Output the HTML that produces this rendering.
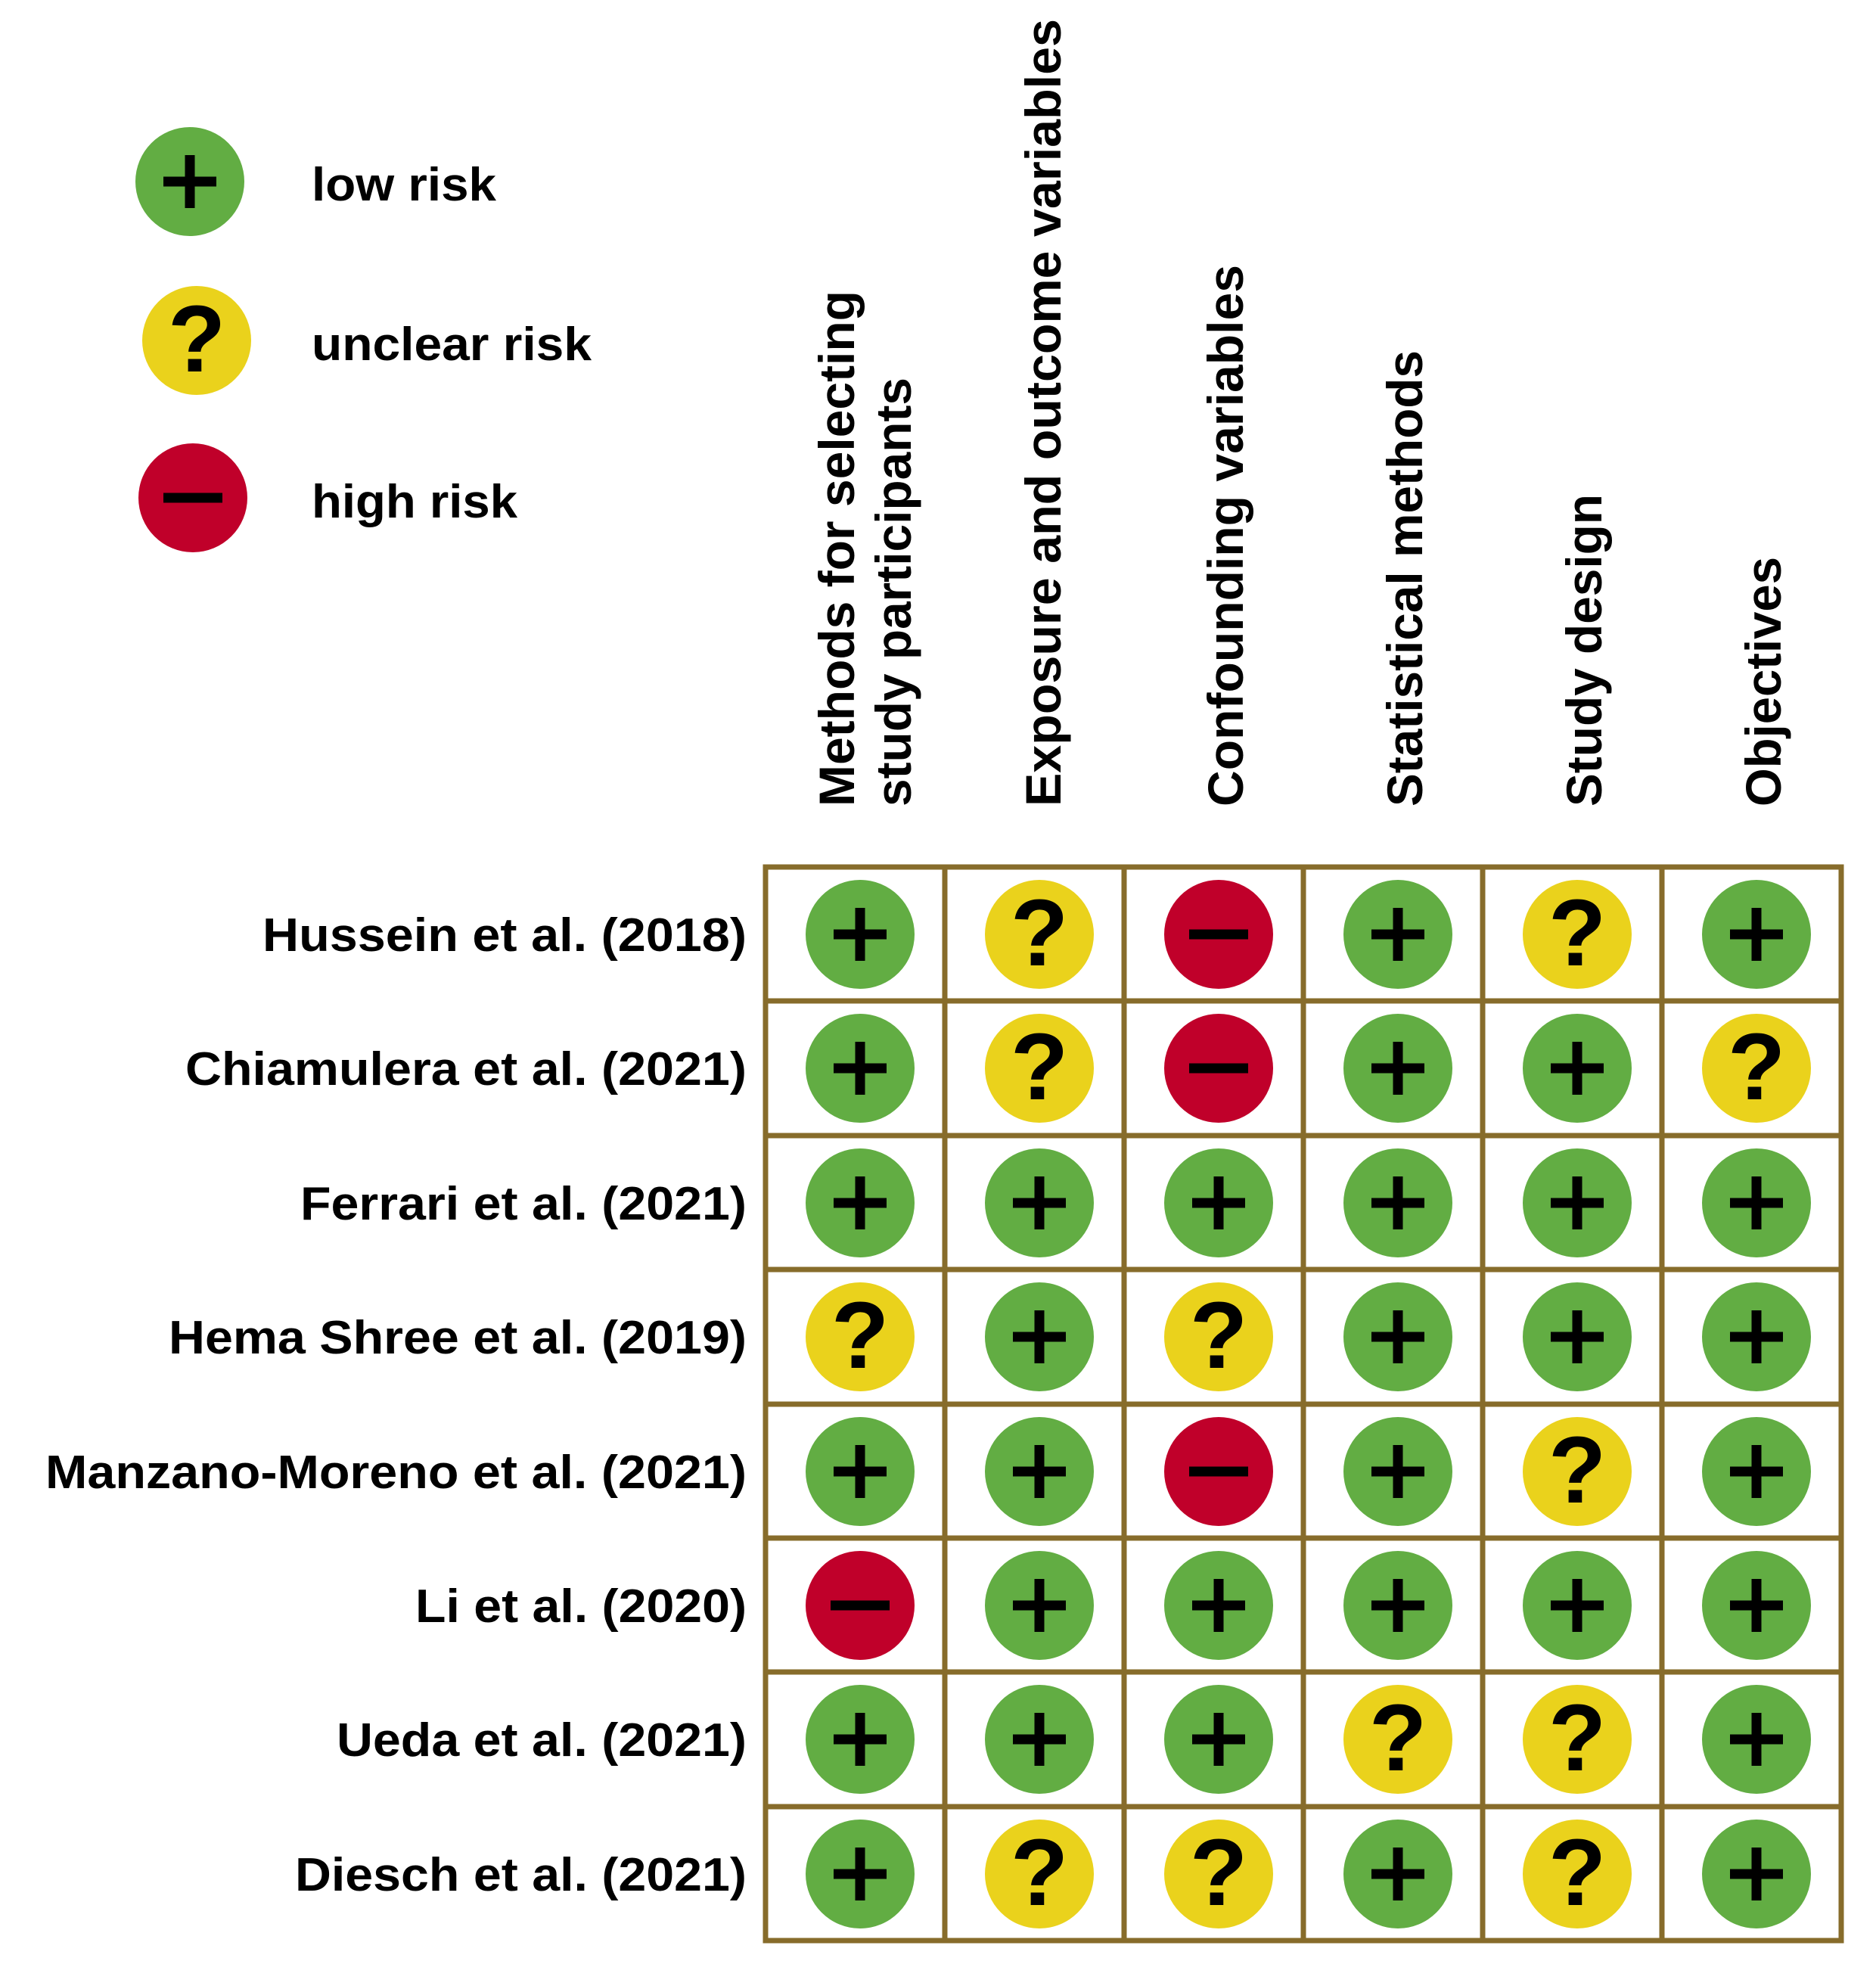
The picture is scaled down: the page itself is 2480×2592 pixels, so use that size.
<!DOCTYPE html>
<html><head><meta charset="utf-8"><style>
html,body{margin:0;padding:0;background:#fff;}
svg{display:block;}
text{font-family:"Liberation Sans",Arial,sans-serif;font-weight:bold;fill:#000;}
</style></head><body>
<svg width="2480" height="2592" viewBox="0 0 2480 2592" xmlns="http://www.w3.org/2000/svg">
<defs>
<g id="p"><circle r="72" fill="#62ad43"/><rect x="-35" y="-6.5" width="70" height="13" fill="#000"/><rect x="-6.5" y="-35" width="13" height="70" fill="#000"/></g>
<g id="m"><circle r="72" fill="#c0002a"/><rect x="-39" y="-6.5" width="78" height="13" fill="#000"/></g>
<g id="q"><circle r="72" fill="#ead21c"/><text x="0" y="41" text-anchor="middle" font-size="125">?</text></g>
</defs>
<!-- legend -->
<use href="#p" x="251" y="240"/>
<use href="#q" x="260" y="450"/>
<use href="#m" x="255" y="658"/>
<text x="412" y="265" font-size="62" textLength="244" lengthAdjust="spacingAndGlyphs">low risk</text>
<text x="412" y="476" font-size="62" textLength="370" lengthAdjust="spacingAndGlyphs">unclear risk</text>
<text x="412" y="684" font-size="62" textLength="272" lengthAdjust="spacingAndGlyphs">high risk</text>
<!-- column headers -->
<g font-size="66">
<text transform="translate(1129,1066) rotate(-90)" textLength="682" lengthAdjust="spacingAndGlyphs">Methods for selecting</text>
<text transform="translate(1204,1066) rotate(-90)" textLength="567" lengthAdjust="spacingAndGlyphs">study participants</text>
<text transform="translate(1402,1066) rotate(-90)" textLength="1041" lengthAdjust="spacingAndGlyphs">Exposure and outcome variables</text>
<text transform="translate(1643,1066) rotate(-90)" textLength="716" lengthAdjust="spacingAndGlyphs">Confounding variables</text>
<text transform="translate(1880,1066) rotate(-90)" textLength="603" lengthAdjust="spacingAndGlyphs">Statistical methods</text>
<text transform="translate(2117,1066) rotate(-90)" textLength="413" lengthAdjust="spacingAndGlyphs">Study design</text>
<text transform="translate(2354,1066) rotate(-90)" textLength="330" lengthAdjust="spacingAndGlyphs">Objectives</text>
</g>
<!-- row labels -->
<g font-size="62" text-anchor="end">
<text x="987" y="1257" textLength="640" lengthAdjust="spacingAndGlyphs">Hussein et al. (2018)</text>
<text x="987" y="1434" textLength="742" lengthAdjust="spacingAndGlyphs">Chiamulera et al. (2021)</text>
<text x="987" y="1612" textLength="590" lengthAdjust="spacingAndGlyphs">Ferrari et al. (2021)</text>
<text x="987" y="1789" textLength="764" lengthAdjust="spacingAndGlyphs">Hema Shree et al. (2019)</text>
<text x="987" y="1967" textLength="927" lengthAdjust="spacingAndGlyphs">Manzano-Moreno et al. (2021)</text>
<text x="987" y="2144" textLength="438" lengthAdjust="spacingAndGlyphs">Li et al. (2020)</text>
<text x="987" y="2321" textLength="542" lengthAdjust="spacingAndGlyphs">Ueda et al. (2021)</text>
<text x="987" y="2499" textLength="597" lengthAdjust="spacingAndGlyphs">Diesch et al. (2021)</text>
</g>
<!-- grid -->
<g stroke="#876c2b" stroke-width="7" fill="none">
<rect x="1012" y="1146" width="1422" height="1419"/>
<line x1="1249" y1="1146" x2="1249" y2="2565"/>
<line x1="1486" y1="1146" x2="1486" y2="2565"/>
<line x1="1723" y1="1146" x2="1723" y2="2565"/>
<line x1="1960" y1="1146" x2="1960" y2="2565"/>
<line x1="2197" y1="1146" x2="2197" y2="2565"/>
<line x1="1012" y1="1323" x2="2434" y2="1323"/>
<line x1="1012" y1="1501" x2="2434" y2="1501"/>
<line x1="1012" y1="1678" x2="2434" y2="1678"/>
<line x1="1012" y1="1856" x2="2434" y2="1856"/>
<line x1="1012" y1="2033" x2="2434" y2="2033"/>
<line x1="1012" y1="2210" x2="2434" y2="2210"/>
<line x1="1012" y1="2388" x2="2434" y2="2388"/>
</g>
<!-- cells: cols 1137,1374,1611,1848,2085,2322 -->
<!-- row1 -->
<use href="#p" x="1137" y="1235"/><use href="#q" x="1374" y="1235"/><use href="#m" x="1611" y="1235"/><use href="#p" x="1848" y="1235"/><use href="#q" x="2085" y="1235"/><use href="#p" x="2322" y="1235"/>
<use href="#p" x="1137" y="1412"/><use href="#q" x="1374" y="1412"/><use href="#m" x="1611" y="1412"/><use href="#p" x="1848" y="1412"/><use href="#p" x="2085" y="1412"/><use href="#q" x="2322" y="1412"/>
<use href="#p" x="1137" y="1590"/><use href="#p" x="1374" y="1590"/><use href="#p" x="1611" y="1590"/><use href="#p" x="1848" y="1590"/><use href="#p" x="2085" y="1590"/><use href="#p" x="2322" y="1590"/>
<use href="#q" x="1137" y="1767"/><use href="#p" x="1374" y="1767"/><use href="#q" x="1611" y="1767"/><use href="#p" x="1848" y="1767"/><use href="#p" x="2085" y="1767"/><use href="#p" x="2322" y="1767"/>
<use href="#p" x="1137" y="1945"/><use href="#p" x="1374" y="1945"/><use href="#m" x="1611" y="1945"/><use href="#p" x="1848" y="1945"/><use href="#q" x="2085" y="1945"/><use href="#p" x="2322" y="1945"/>
<use href="#m" x="1137" y="2122"/><use href="#p" x="1374" y="2122"/><use href="#p" x="1611" y="2122"/><use href="#p" x="1848" y="2122"/><use href="#p" x="2085" y="2122"/><use href="#p" x="2322" y="2122"/>
<use href="#p" x="1137" y="2299"/><use href="#p" x="1374" y="2299"/><use href="#p" x="1611" y="2299"/><use href="#q" x="1848" y="2299"/><use href="#q" x="2085" y="2299"/><use href="#p" x="2322" y="2299"/>
<use href="#p" x="1137" y="2477"/><use href="#q" x="1374" y="2477"/><use href="#q" x="1611" y="2477"/><use href="#p" x="1848" y="2477"/><use href="#q" x="2085" y="2477"/><use href="#p" x="2322" y="2477"/>
</svg>
</body></html>
